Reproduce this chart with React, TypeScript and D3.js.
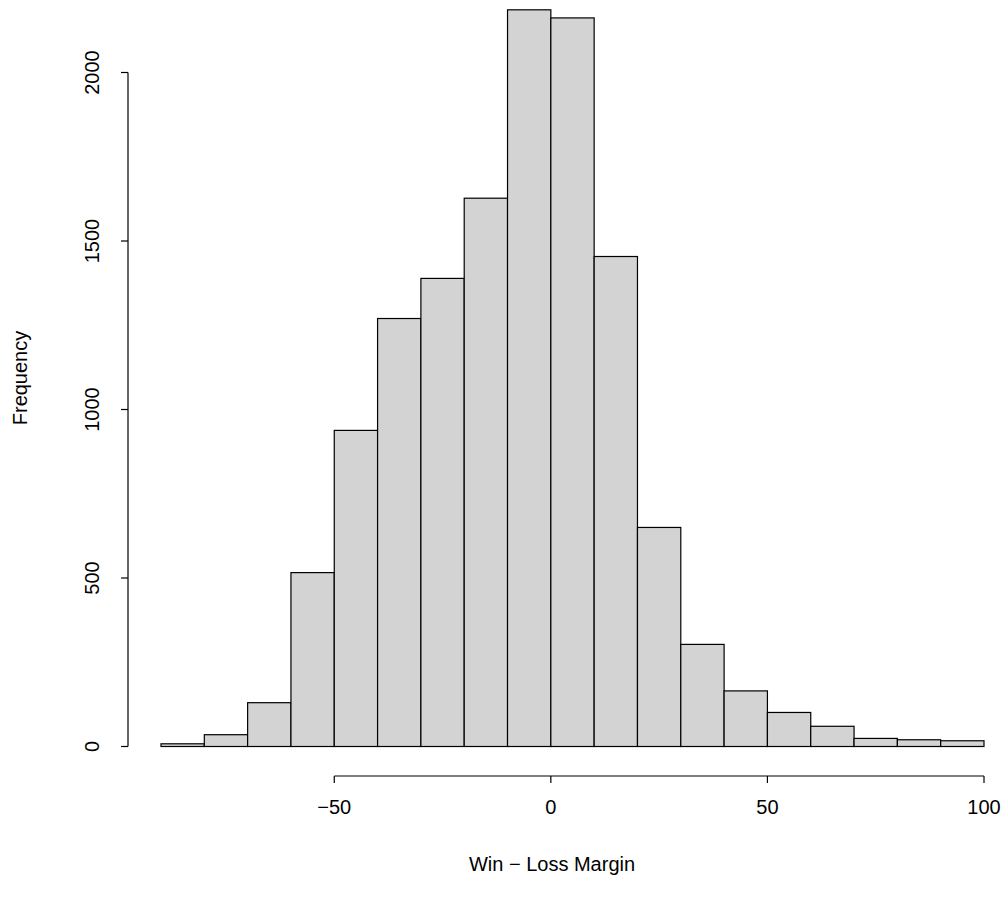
import React from "react";
import * as d3 from "d3";

const binStarts = [-90, -80, -70, -60, -50, -40, -30, -20, -10, 0, 10, 20, 30, 40, 50, 60, 70, 80, 90];
const binWidth = 10;
const counts = [8, 35, 130, 516, 938, 1270, 1389, 1627, 2186, 2162, 1454, 650, 303, 165, 101, 60, 24, 20, 17];
const xTicks = [-50, 0, 50, 100];
const yTicks = [0, 500, 1000, 1500, 2000];
const xLabel = "Win \u2212 Loss Margin";
const yLabel = "Frequency";

const fmt = (v: number) => (v < 0 ? "\u2212" + Math.abs(v) : String(v));

export default function App() {
  const x = d3.scaleLinear().domain([-90, 100]).range([161, 984]);
  const y = d3.scaleLinear().domain([0, 2000]).range([746.5, 72.5]);
  const axisY = 776;
  const axisX = 128;
  const font = "'Liberation Sans', Arial, Helvetica, sans-serif";
  return (
    <svg
      width={1008}
      height={900}
      style={{ position: "absolute", left: 0, top: 0, background: "#fff" }}
      fontFamily={font}
    >
      <rect x={0} y={0} width={1008} height={900} fill="#fff" />
      {binStarts.map((s, i) => (
        <rect
          key={i}
          x={x(s)}
          y={y(counts[i])}
          width={x(s + binWidth) - x(s)}
          height={y(0) - y(counts[i])}
          fill="#D3D3D3"
          stroke="#000"
          strokeWidth={1.2}
        />
      ))}
      {/* x axis */}
      <line x1={x(xTicks[0])} x2={x(xTicks[xTicks.length - 1])} y1={axisY} y2={axisY} stroke="#000" strokeWidth={1.2} />
      {xTicks.map((t) => (
        <g key={t}>
          <line x1={x(t)} x2={x(t)} y1={axisY} y2={axisY + 7} stroke="#000" strokeWidth={1.2} />
          <text x={x(t)} y={814} textAnchor="middle" fontSize={20}>
            {fmt(t)}
          </text>
        </g>
      ))}
      {/* y axis */}
      <line x1={axisX} x2={axisX} y1={y(yTicks[0])} y2={y(yTicks[yTicks.length - 1])} stroke="#000" strokeWidth={1.2} />
      {yTicks.map((t) => (
        <g key={t}>
          <line x1={axisX} x2={axisX - 7} y1={y(t)} y2={y(t)} stroke="#000" strokeWidth={1.2} />
          <text
            transform={`translate(${99},${y(t)}) rotate(-90)`}
            textAnchor="middle"
            fontSize={20}
          >
            {t}
          </text>
        </g>
      ))}
      <text x={552} y={871} textAnchor="middle" fontSize={20}>
        {xLabel}
      </text>
      <text transform={`translate(${27},${378}) rotate(-90)`} textAnchor="middle" fontSize={20}>
        {yLabel}
      </text>
    </svg>
  );
}
